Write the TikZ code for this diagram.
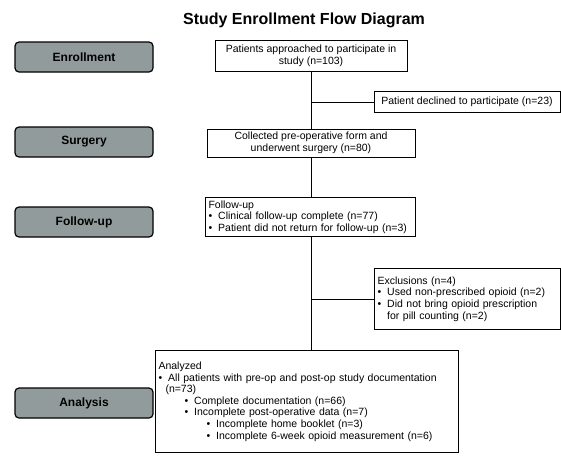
\documentclass[tikz,border=0pt]{standalone}
\usepackage{fontspec}
\setmainfont{Liberation Sans}
\usepackage{xcolor}
\usetikzlibrary{positioning}

\definecolor{phasegray}{RGB}{146,155,155}
\newcommand{\itm}{\textbullet\hspace{6pt}}

\begin{document}
\begin{tikzpicture}[x=1pt,y=-1pt,
    phase/.style={draw=black, line width=1.2pt, rounded corners=4pt, fill=phasegray,
        minimum width=138pt, minimum height=30pt, font=\fontsize{12}{14}\selectfont\bfseries},
    stepbox/.style={draw=black, line width=1pt, fill=white, inner sep=3pt,
        font=\fontsize{10.5}{11.6}\selectfont},
    link/.style={line width=0.9pt}]
    \useasboundingbox (0,0) rectangle (561,456);

    % Title
    \node[font=\fontsize{16}{18}\selectfont\bfseries] (title) at (304,20) {Study Enrollment Flow Diagram};

    % Phase labels on the left
    \node[phase] (enroll) at (84,57) {Enrollment};
    \node[phase] (surg) at (84,142) {Surgery};
    \node[phase] (follow) at (84,222) {Follow-up};
    \node[phase] (analysis) at (84,403) {Analysis};

    % Main column
    \node[stepbox, minimum width=192pt, minimum height=31pt, align=center] (approached) at (311,55.5)
        {Patients approached to participate in\\ study (n=103)};
    \node[stepbox, minimum width=208pt, minimum height=28pt, align=center] (collected) at (311,143)
        {Collected pre-operative form and\\ underwent surgery (n=80)};
    \node[stepbox, anchor=north west, text width=204pt, align=left] (followup) at (205,197)
        {Follow-up\\
         \itm Clinical follow-up complete (n=77)\\
         \itm Patient did not return for follow-up (n=3)};
    \node[stepbox, anchor=north west, text width=297pt, minimum height=102pt, align=left] (analyzed) at (155,350)
        {Analyzed\\
         \itm All patients with pre-op and post-op study documentation\\
         \hspace*{7pt}(n=73)\\
         \hspace*{26pt}\itm Complete documentation (n=66)\\
         \hspace*{26pt}\itm Incomplete post-operative data (n=7)\\
         \hspace*{48pt}\itm Incomplete home booklet (n=3)\\
         \hspace*{48pt}\itm Incomplete 6-week opioid measurement (n=6)};

    % Side branches
    \node[stepbox, minimum width=186pt, minimum height=21pt] (declined) at (467,102)
        {Patient declined to participate (n=23)};
    \node[stepbox, anchor=north west, text width=180pt, minimum height=61pt, align=left] (exclusions) at (374,268)
        {Exclusions (n=4)\\
         \itm Used non-prescribed opioid (n=2)\\
         \itm Did not bring opioid prescription\\
         \phantom{\itm}for pill counting (n=2)};

    % Connectors
    \draw[link] (approached.south) -- (approached.south |- collected.north);
    \draw[link] (approached.south |- declined.west) -- (declined.west);
    \draw[link] (collected.south) -- (collected.south |- followup.north);
    \draw[link] (collected.south |- followup.south) -- (collected.south |- analyzed.north);
    \draw[link] (collected.south |- exclusions.west) -- (exclusions.west);
\end{tikzpicture}
\end{document}
